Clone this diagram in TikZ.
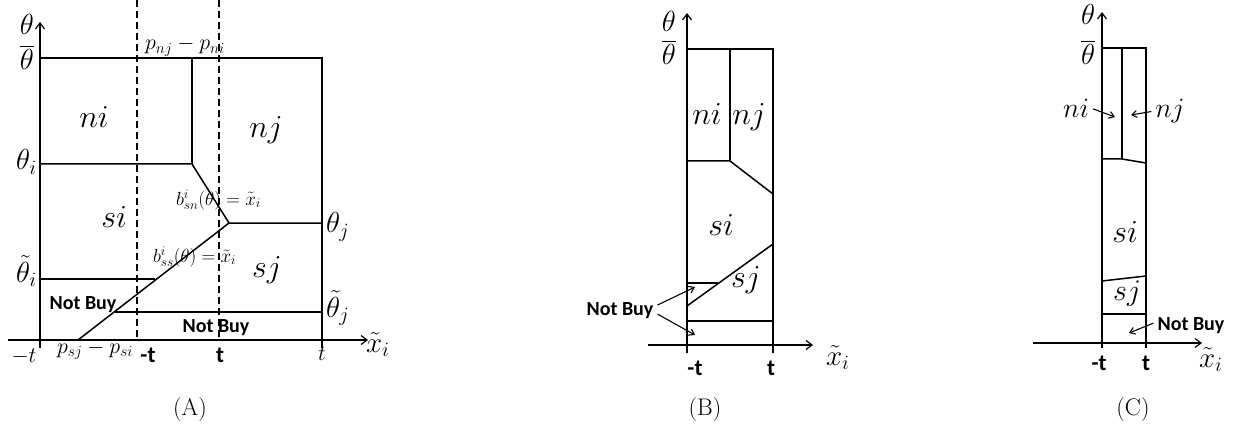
\RequirePackage{fix-cm}
\documentclass[tikz,border=0pt]{standalone}
\usepackage{fontspec}
\usepackage{amsmath}
\newfontfamily\nbfont{Carlito}
\usetikzlibrary{arrows.meta,positioning,calc}

\begin{document}
\begin{tikzpicture}[x=1pt,y=-1pt,line width=1.5pt,
    axis/.style={line width=1.2pt,-{Straight Barb[length=6pt,width=9pt]}},
    dashline/.style={dash pattern=on 7pt off 4pt},
    ptr/.style={line width=1.1pt,-{Straight Barb[length=5pt,width=7pt]}},
    region/.style={font=\fontsize{32}{32}\selectfont,anchor=base},
    lbl/.style={font=\fontsize{29}{29}\selectfont,anchor=base},
    sml/.style={font=\fontsize{22}{22}\selectfont,anchor=base},
    nb/.style={font=\fontsize{20}{20}\selectfont\nbfont\bfseries,anchor=base},
    tk/.style={font=\fontsize{23}{23}\selectfont\nbfont\bfseries,anchor=base},
    captxt/.style={font=\fontsize{24}{24}\selectfont,anchor=base}]
    \useasboundingbox (0,0) rectangle (1243,425);

    % (A): axes
    \draw[axis] (40,348) -- (40,22);
    \draw[axis] (8,340) -- (368,340);
    % (A): boundaries
    \coordinate (AtopL) at (40,58);
    \coordinate (AtopR) at (322,58);
    \coordinate (AbotR) at (322,348);
    \coordinate (Anij) at (192,58);
    \coordinate (Akink) at (192,164);
    \coordinate (Ameet) at (229,223);
    \coordinate (Afoot) at (78,340);
    \draw (AtopL) -- (AtopR) -- (AbotR);
    \draw (Anij) -- (Akink);
    \draw (40,164) -- (Akink) -- (Ameet) -- (322,223);
    \draw (Afoot) -- (Ameet);
    \draw (40,279) -- (155,279);
    \draw (115,312) -- (322,312);
    \draw[dashline] (137,0) -- (137,340);
    \draw[dashline] (219,0) -- (219,340);
    % (A): labels
    \node[lbl] (Ath) at (27,35) {$\theta$};
    \node[lbl] (Athbar) at (27,70) {$\overline{\theta}$};
    \node[lbl,anchor=base west] (Athi) at (12,170) {$\theta_{i}$};
    \node[lbl,anchor=base west] (Athti) at (12,282) {$\tilde{\theta}_{i}$};
    \node[lbl,anchor=base west] (Athj) at (322,233) {$\theta_{j}$};
    \node[lbl,anchor=base west] (Athtj) at (322,317) {$\tilde{\theta}_{j}$};
    \node[sml,anchor=base west] (Apn) at (141,50) {$p_{nj}-p_{ni}$};
    \node[sml,anchor=base west,font=\fontsize{19}{19}\selectfont] (Absn) at (172,205) {$b^{i}_{sn}(\theta)=\tilde{x}_{i}$};
    \node[sml,anchor=base west,font=\fontsize{19}{19}\selectfont] (Abss) at (149,262) {$b^{i}_{ss}(\theta)=\tilde{x}_{i}$};
    \node[region] (Ani) at (94,128) {$ni$};
    \node[region] (Anj) at (266,138) {$nj$};
    \node[region] (Asi) at (114,227) {$si$};
    \node[region] (Asj) at (267,277) {$sj$};
    \node[nb] (Anb1) at (83,309) {Not Buy};
    \node[nb] (Anb2) at (216,332) {Not Buy};
    \node[sml] (Amt) at (24,362) {$-t$};
    \node[sml,anchor=base west] (Aps) at (53,353) {$p_{sj}-p_{si}$};
    \node[tk] (Amtb) at (148,362) {-t};
    \node[tk] (Atb) at (220,362) {t};
    \node[sml] (At) at (322,360) {$t$};
    \node[lbl,anchor=base west] (Axi) at (362,352) {$\tilde{x}_{i}$};
    \node[captxt] (Acap) at (190,415) {(A)};

    % (B): axes
    \draw[axis] (687,353) -- (687,13);
    \draw[axis] (648,345) -- (813,345);
    % (B): boundaries
    \coordinate (BtopL) at (687,49);
    \coordinate (BtopR) at (773,49);
    \coordinate (BbotR) at (773,353);
    \coordinate (Bnij) at (730,49);
    \coordinate (Bkink) at (730,161);
    \draw (BtopL) -- (BtopR) -- (BbotR);
    \draw (Bnij) -- (Bkink);
    \draw (687,161) -- (Bkink) -- (773,194);
    \draw (687,306) -- (773,244);
    \draw (687,283) -- (718,283);
    \draw (687,321) -- (773,321);
    % (B): labels
    \node[lbl] (Bth) at (669,32) {$\theta$};
    \node[lbl] (Bthbar) at (669,65) {$\overline{\theta}$};
    \node[region] (Bni) at (707,125) {$ni$};
    \node[region] (Bnj) at (749,125) {$nj$};
    \node[region] (Bsi) at (721,235) {$si$};
    \node[region] (Bsj) at (746,287) {$sj$};
    \node[nb] (Bnb) at (620,315) {Not Buy};
    \coordinate (Bnbup) at (695,287);
    \coordinate (Bnbdn) at (695,335);
    \draw[ptr] ([yshift=5pt]Bnb.east) -- (Bnbup);
    \draw[ptr] ([yshift=-4pt]Bnb.east) -- (Bnbdn);
    \node[tk] (Bmt) at (695,375) {-t};
    \node[tk] (Bt) at (771,375) {t};
    \node[lbl,anchor=base west] (Bxi) at (822,365) {$\tilde{x}_{i}$};
    \node[captxt] (Bcap) at (705,415) {(B)};

    % (C): axes
    \draw[axis] (1102,348) -- (1102,12);
    \draw[axis] (1033,343) -- (1202,343);
    % (C): boundaries
    \coordinate (CtopL) at (1102,48);
    \coordinate (CtopR) at (1146,48);
    \coordinate (CbotR) at (1146,348);
    \coordinate (Cnij) at (1122,48);
    \coordinate (Ckink) at (1122,159);
    \draw (CtopL) -- (CtopR) -- (CbotR);
    \draw (Cnij) -- (Ckink);
    \draw (1102,159) -- (Ckink) -- (1146,163);
    \draw (1102,281) -- (1146,276);
    \draw (1102,314) -- (1146,314);
    % (C): labels
    \node[lbl] (Cth) at (1088,25) {$\theta$};
    \node[lbl] (Cthbar) at (1088,65) {$\overline{\theta}$};
    \node[region,font=\fontsize{28}{28}\selectfont] (Cni) at (1076,118) {$ni$};
    \node[region,font=\fontsize{28}{28}\selectfont] (Cnj) at (1170,118) {$nj$};
    \node[region] (Csi) at (1125,242) {$si$};
    \node[region,font=\fontsize{30}{30}\selectfont] (Csj) at (1127,300) {$sj$};
    \node[nb] (Cnb) at (1191,330) {Not Buy};
    \coordinate (Cniend) at (1115,117);
    \coordinate (Cnjend) at (1131,115);
    \coordinate (Cnbend) at (1129,333);
    \draw[ptr] (Cni.east) -- (Cniend);
    \draw[ptr] (Cnj.west) -- (Cnjend);
    \draw[ptr] ([yshift=2pt]Cnb.west) -- (Cnbend);
    \node[tk] (Cmt) at (1099,370) {-t};
    \node[tk] (Ct) at (1146,370) {t};
    \node[lbl,anchor=base west] (Cxi) at (1195,367) {$\tilde{x}_{i}$};
    \node[captxt] (Ccap) at (1133,415) {(C)};
\end{tikzpicture}
\end{document}
